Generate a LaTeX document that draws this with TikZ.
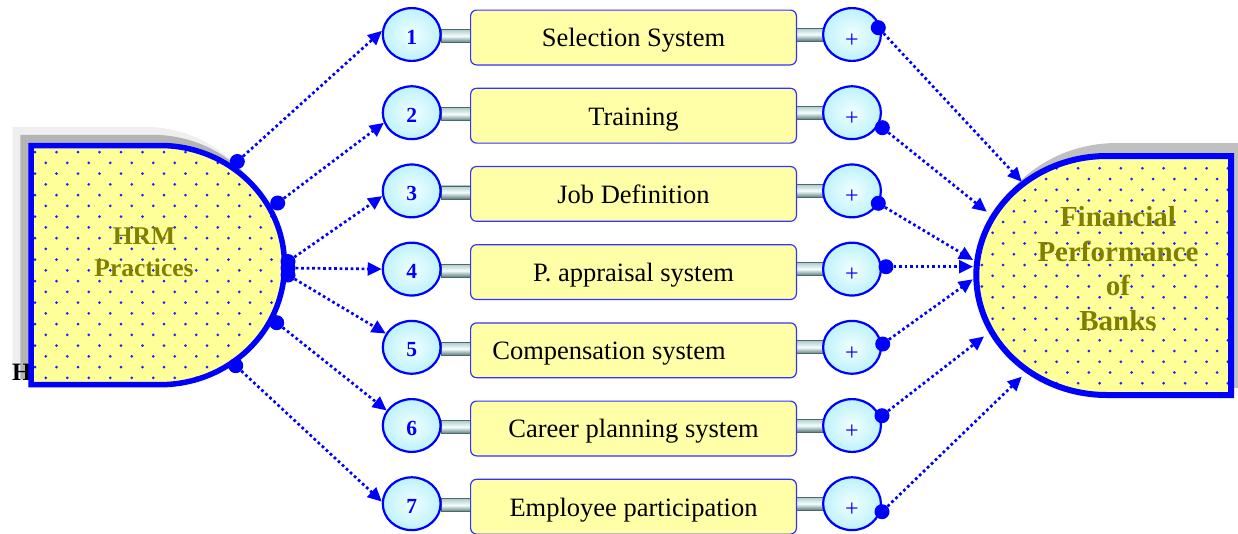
\documentclass[tikz,border=0pt]{standalone}
\usepackage{fontspec}
\setmainfont{Liberation Serif}
\usetikzlibrary{arrows.meta,shapes.geometric}

\definecolor{pblue}{HTML}{0000FF}
\definecolor{shapefill}{HTML}{FFFF99}
\definecolor{boxfill}{HTML}{FFFFA8}
\definecolor{olivetxt}{HTML}{808000}
\definecolor{ellin}{HTML}{F2FFFF}
\definecolor{ellout}{HTML}{BDF2FB}
\definecolor{barlight}{HTML}{F4FFFF}
\definecolor{bartop}{HTML}{B0CACA}
\definecolor{barbot}{HTML}{5A7A7A}
\definecolor{baredge}{HTML}{4A6A6A}
\definecolor{shadowdark}{HTML}{B4B4B4}
\definecolor{shadowlight}{HTML}{EFEFEF}
\definecolor{shadowright}{HTML}{C0C0C0}
\definecolor{dotblue}{HTML}{2020FF}

% outlines of the two end blocks
\def\hrmpath{(31,-145.5) -- (160,-145.5) arc[start angle=90,end angle=-90,x radius=124.5,y radius=119.6] -- (31,-384.7) -- cycle}
\def\finpath{(1231,-156) -- (1107,-156) arc[start angle=90,end angle=270,x radius=130.7,y radius=119.5] -- (1231,-395) -- cycle}

\begin{document}
\begin{tikzpicture}[x=1pt,y=1pt,
  oval/.style={ellipse, draw=pblue, line width=2.2pt, shading=radial,
    inner color=ellin, outer color=ellout, minimum width=57.8pt,
    minimum height=52.8pt, inner sep=0pt},
  numlbl/.style={text=pblue, font=\fontsize{21.5pt}{24pt}\selectfont\bfseries, yshift=-2.5pt},
  pluslbl/.style={text=pblue, font=\fontsize{24pt}{26pt}\selectfont, yshift=-6pt},
  stepbox/.style={rectangle, rounded corners=6pt, draw=pblue!80, line width=1.2pt,
    fill=boxfill, minimum width=325.8pt, minimum height=54.8pt, inner sep=0pt,
    text height=18.6pt, text depth=0pt, font=\fontsize{26.5pt}{30pt}\selectfont},
  link/.style={rectangle, draw=baredge, line width=0.8pt, top color=bartop,
    bottom color=barbot, middle color=barlight, minimum height=13pt, inner sep=0pt},
  knob/.style={circle, fill=pblue, minimum size=15pt, inner sep=0pt},
  flow/.style={draw=pblue, line width=2.7pt, dash pattern=on 2.7pt off 2.8pt,
    -{Triangle[length=14pt,width=13pt]}},
  title/.style={text=olivetxt, align=center, inner sep=0pt},
]
\useasboundingbox (0,0) rectangle (1238,-533);

% ---------- left block: HRM practices ----------
\begin{scope}[shift={(-16,16)}]
  \filldraw[shadowlight, line width=5.5pt] \hrmpath;
\end{scope}
\begin{scope}[shift={(-8,8)}]
  \filldraw[shadowdark, line width=5.5pt] \hrmpath;
\end{scope}
\node[anchor=base west, inner sep=0pt, font=\fontsize{25pt}{28pt}\selectfont\bfseries] (stray) at (12,-380) {H};
\fill[shapefill] \hrmpath;
\begin{scope}
  \clip \hrmpath;
  \foreach \r in {0,...,22}
    \foreach \c in {0,...,12}
      \fill[dotblue] ({35+21.5*\c+10.75*mod(\r,2)},{-(152+10.75*\r)}) circle[radius=1.5pt];
\end{scope}
\draw[pblue, line width=5.5pt] \hrmpath;
\node[title, font=\fontsize{25.5pt}{31.6pt}\selectfont\bfseries] (hrm) at (144,-252.5) {HRM\\Practices};

% ---------- right block: financial performance ----------
\begin{scope}[shift={(10,10)}]
  \filldraw[shadowright, line width=6pt] \finpath;
\end{scope}
\fill[shapefill] \finpath;
\begin{scope}
  \clip \finpath;
  \foreach \r in {0,...,22}
    \foreach \c in {0,...,14}
      \fill[dotblue] ({949.7+21.4*\c+10.7*mod(\r+1,2)},{-(157.5+10.75*\r)}) circle[radius=1.5pt];
\end{scope}
\draw[pblue, line width=6pt] \finpath;
\node[title, font=\fontsize{29pt}{34.5pt}\selectfont\bfseries] (fin) at (1118,-268.5) {Financial\\Performance\\of\\Banks};

% arrow ends on the right block
\coordinate (f1) at (1021.7,-181.7);
\coordinate (f2) at (986.7,-211.7);
\coordinate (f3) at (973,-260);
\coordinate (f4) at (973,-266.7);
\coordinate (f5) at (972.7,-279.3);
\coordinate (f6) at (984,-336.5);
\coordinate (f7) at (1021.7,-376.7);

% ---------- the seven practice rows ----------
\foreach \i/\yc/\lab in {
  1/34.5/{Selection System},
  2/112.7/{Training},
  3/190.9/{Job Definition},
  4/269.1/{P. appraisal system},
  5/347.3/{Compensation system\kern49pt},
  6/425.5/{Career planning system},
  7/503.7/{Employee participation}}{
  \node[link, minimum width=29pt] (la\i) at (455.5,{-(\yc+1.5)}) {};
  \node[link, minimum width=27pt] (lb\i) at (809.5,-\yc) {};
  \node[oval, label={[numlbl]center:\i}] (n\i) at (411.7,-\yc) {};
  \node[stepbox] (r\i) at (633.5,{-(\yc+3)}) {\lab};
  \node[oval, label={[pluslbl]center:+}] (p\i) at (852,-\yc) {};
}

% ---------- knobs on the left block and arrows to the numbered ovals ----------
\node[knob] (L1) at (237.3,-161.5) {};
\node[knob] (L2) at (277.7,-203) {};
\node[knob] (L3) at (288,-261.5) {};
\node[knob] (L4) at (288,-268) {};
\node[knob] (L5) at (288,-275) {};
\node[knob] (L6) at (276.7,-322.7) {};
\node[knob] (L7) at (235.7,-365.7) {};

\draw[flow] (L1) -- (n1.173);
\draw[flow] (L2) -- (n2.200);
\draw[flow] (L3) -- (n3.190);
\draw[flow] (L4) -- (n4.180);
\draw[flow] (L5) -- (n5.152);
\draw[flow] (L6) -- (n6.149);
\draw[flow] (L7) -- (n7.176);

% ---------- knobs on the plus ovals and arrows to the right block ----------
\node[knob] (d1) at (878.3,-27.7) {};
\node[knob] (d2) at (882.3,-127.7) {};
\node[knob] (d3) at (878.3,-203.3) {};
\node[knob] (d4) at (886,-266.7) {};
\node[knob] (d5) at (882.7,-344) {};
\node[knob] (d6) at (882,-415.7) {};
\node[knob] (d7) at (882,-511.7) {};

\draw[flow] (d1) -- (f1);
\draw[flow] (d2) -- (f2);
\draw[flow] (d3) -- (f3);
\draw[flow] (d4) -- (f4);
\draw[flow] (d5) -- (f5);
\draw[flow] (d6) -- (f6);
\draw[flow] (d7) -- (f7);
\end{tikzpicture}
\end{document}
